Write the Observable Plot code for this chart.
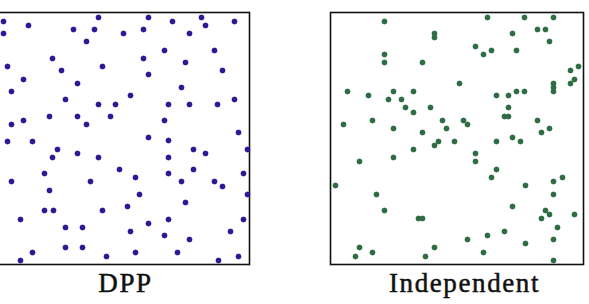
<!DOCTYPE html>
<html>
<head>
<meta charset="utf-8">
<script src="https://cdn.jsdelivr.net/npm/d3@7"></script>
<script src="https://cdn.jsdelivr.net/npm/@observablehq/plot@0.6"></script>
<style>
  html, body { margin: 0; padding: 0; background: #fff; }
  #wrap { position: relative; width: 589px; height: 304px; overflow: hidden; background: #fff; }
</style>
</head>
<body>
<div id="wrap"></div>
<script>
// Panel labels
const panelLabels = ["DPP", "Independent"];

// Point positions on a 0–253 grid (x from left, y from bottom of each square)
const dppX = [102,7,32,7,77,98,127,90,56,11,65,106,27,81,15,134,69,102,119,53,81,114,27,15,90,
  152,176,205,209,238,147,193,168,218,147,189,226,152,185,172,193,221,238,168,242,152,172,
  11,36,61,56,81,102,123,48,15,94,53,131,48,57,106,24,69,86,134,69,86,36,110,24,
  197,209,251,172,139,172,197,185,218,226,247,143,251,189,172,152,247,168,193,234,139,181,222,242];
const dppY = [247,243,239,231,235,235,231,223,206,198,194,198,185,181,173,169,165,160,160,148,148,148,144,140,140,
  247,243,247,239,243,235,231,214,214,206,202,194,190,177,160,160,160,165,144,132,127,124,
  123,123,115,107,111,107,95,91,83,83,74,58,54,54,54,45,37,37,33,17,17,12,8,4,
  115,111,115,107,87,91,95,83,83,78,91,70,70,62,45,41,45,29,25,33,12,12,4,8];

const indX = [54,104,104,54,54,92,129,17,38,63,83,58,71,75,83,100,13,42,112,63,116,92,108,124,104,
  157,194,223,182,207,215,219,145,153,161,186,248,240,244,240,223,223,223,166,178,186,194,178,174,178,133,137,207,219,211,166,182,190,
  83,29,63,5,46,54,88,92,29,104,42,25,95,
  145,145,166,161,195,223,232,223,182,215,219,211,244,227,174,157,137,223,195,153,223];
const indY = [243,231,227,210,202,202,181,173,169,173,173,165,165,157,152,157,140,144,144,136,136,132,123,123,119,
  247,247,247,231,235,235,223,218,210,214,214,198,194,185,181,181,177,173,169,169,173,173,157,148,148,144,140,144,136,132,123,127,123,
  115,103,107,79,70,54,46,46,17,17,12,8,8,
  111,103,95,87,79,83,87,70,58,54,50,46,50,37,33,29,25,25,21,12,4];

const panels = [
  {label: panelLabels[0], xs: dppX, ys: dppY, color: "#2a1a96", left: -6, dx: 2.5},
  {label: panelLabels[1], xs: indX, ys: indY, color: "#2e6d44", left: 328, dx: 7.5}
];

const wrap = document.getElementById("wrap");
for (const p of panels) {
  const data = p.xs.map((x, i) => ({x, y: p.ys[i]}));
  const chart = Plot.plot({
    width: 257,
    height: 304,
    marginLeft: 2,
    marginRight: 2,
    marginTop: 12,
    marginBottom: 40,
    style: {background: "transparent", letterSpacing: "1.6px"},
    x: {domain: [0, 253], axis: null},
    y: {domain: [0, 252], axis: null},
    marks: [
      Plot.frame({stroke: "#111", strokeWidth: 1.6}),
      Plot.dot(data, {x: "x", y: "y", r: 2.7, fill: p.color, stroke: p.color, strokeOpacity: 0.35, strokeWidth: 0.8}),
      Plot.text([p.label], {
        text: d => d,
        frameAnchor: "bottom",
        dy: 27,
        dx: p.dx,
        fontSize: 27,
        fontFamily: "Liberation Serif",
        fill: "#111",
        stroke: "#111",
        strokeWidth: 0.5
      })
    ]
  });
  chart.style.position = "absolute";
  chart.style.left = p.left + "px";
  chart.style.top = "0px";
  wrap.appendChild(chart);
}
</script>
</body>
</html>
